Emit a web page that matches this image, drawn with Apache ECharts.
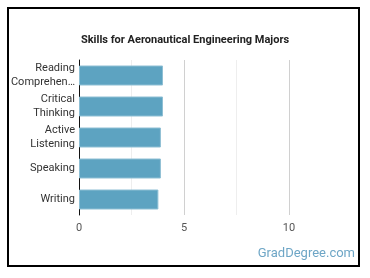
<!DOCTYPE html>
<html>
<head>
<meta charset="utf-8">
<script src="https://cdn.jsdelivr.net/npm/echarts@6/dist/echarts.min.js"></script>
<style>
  html, body { margin: 0; padding: 0; background: #fff; }
  #chart { width: 370px; height: 278px; }
</style>
</head>
<body>
<div id="chart"></div>
<script>
var chart = echarts.init(document.getElementById('chart'));

var skills = ['Reading\nComprehen…', 'Critical\nThinking', 'Active\nListening', 'Speaking', 'Writing'];
var scores = [4.0, 4.0, 3.9, 3.9, 3.78];
var xTicks = [0, 5, 10];

var option = {
    animation: false,
    title: {
        text: 'Skills for Aeronautical Engineering Majors',
        left: 'center',
        top: 30,
        textStyle: {
            fontFamily: 'Roboto',
            fontSize: 11,
            fontWeight: 'bold',
            color: '#222'
        }
    },
    graphic: [
        {
            type: 'rect',
            shape: { x: 8, y: 8, width: 351, height: 258 },
            style: { fill: 'none', stroke: '#000', lineWidth: 2 }
        },
        {
            type: 'text',
            right: 15,
            top: 247,
            style: {
                text: 'GradDegree.com',
                fontFamily: 'Roboto',
                fontSize: 13,
                fill: '#6ea6c6'
            }
        }
    ],
    grid: {
        left: 79,
        right: 81,
        top: 60,
        bottom: 63
    },
    xAxis: {
        type: 'value',
        min: xTicks[0],
        max: xTicks[xTicks.length - 1],
        interval: 5,
        axisLine: { show: false },
        axisTick: { show: false },
        axisLabel: {
            color: '#555',
            fontFamily: 'Roboto',
            fontSize: 11,
            margin: 8
        },
        splitLine: { lineStyle: { color: '#d0d0d0' } },
        minorTick: { show: false, splitNumber: 2 },
        minorSplitLine: { show: true, lineStyle: { color: '#eeeeee' } }
    },
    yAxis: {
        type: 'category',
        data: skills,
        inverse: true,
        axisLine: { lineStyle: { color: '#111', width: 1 } },
        axisTick: { show: false },
        axisLabel: {
            color: '#333',
            fontFamily: 'Roboto',
            fontSize: 11,
            lineHeight: 14,
            margin: 4
        }
    },
    series: [
        {
            type: 'bar',
            data: scores,
            barWidth: 20,
            itemStyle: {
                color: '#5da3c1',
                borderColor: '#8ebfd4',
                borderWidth: 1
            }
        }
    ]
};
chart.setOption(option);
</script>
</body>
</html>
